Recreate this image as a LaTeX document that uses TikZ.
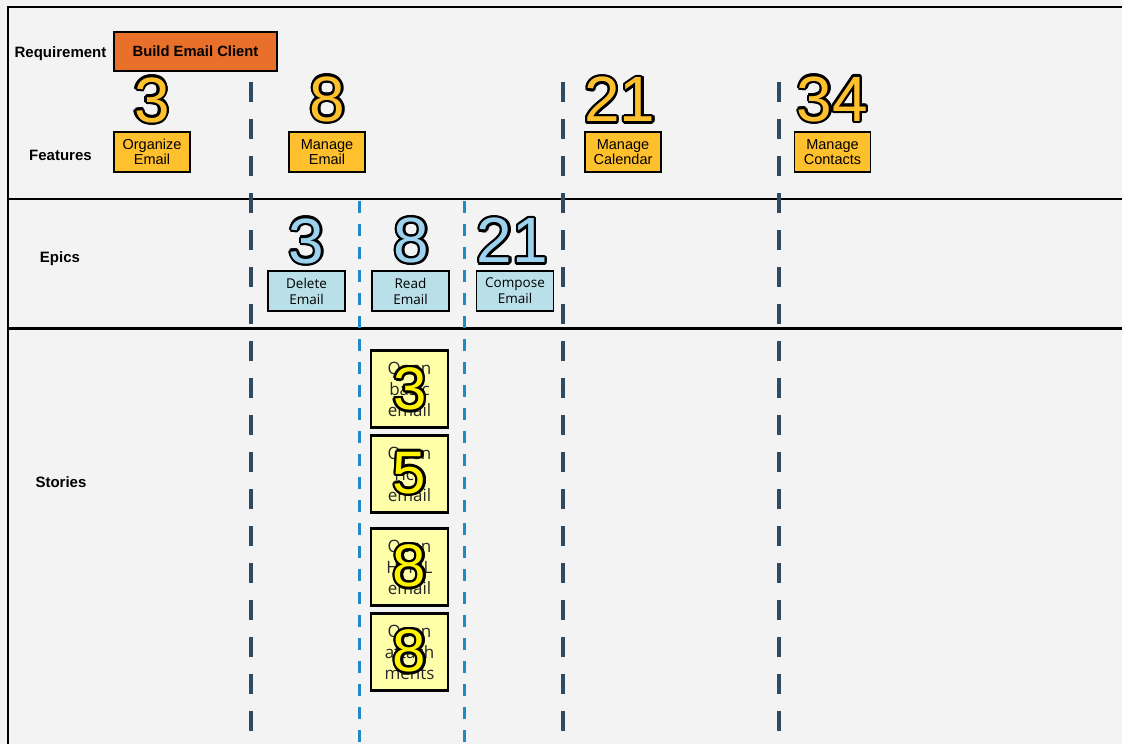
\documentclass[tikz,border=0pt]{standalone}
\usepackage{fontspec}
\setmainfont{Liberation Sans}
\newfontfamily\storyfont{Open Sans}
\definecolor{paper}{HTML}{F3F3F3}
\definecolor{reqorange}{HTML}{E8702A}
\definecolor{featgold}{HTML}{FFC02E}
\definecolor{epicblue}{HTML}{B9DFE9}
\definecolor{epicnum}{HTML}{9DD2EF}
\definecolor{storyyellow}{HTML}{FFFFAA}
\definecolor{storynum}{HTML}{FFF200}
\definecolor{slate}{HTML}{2E4B63}
\definecolor{dashblue}{HTML}{1F8AC6}

% big digits with a black rim
\newbox\olbox
\newcommand{\outlinenum}[2]{%
  \setbox\olbox=\hbox{#2}%
  \makebox[\wd\olbox][l]{%
    \color{black}%
    \foreach \ang in {0,22.5,...,337.5}{%
      \pgfmathsetlengthmacro\odx{2.4pt*cos(\ang)}%
      \pgfmathsetlengthmacro\ody{2.4pt*sin(\ang)}%
      \rlap{\kern\odx\raisebox{\ody}{\copy\olbox}}}%
    \color{#1}\copy\olbox}}

\tikzset{
  rowlabel/.style={font=\bfseries\fontsize{15}{17}\selectfont},
  reqbox/.style={draw, line width=1.8pt, fill=reqorange, minimum width=163pt,
    minimum height=39pt, inner sep=0pt, font=\bfseries\fontsize{14.8}{17}\selectfont},
  featbox/.style={draw, line width=1.8pt, fill=featgold, minimum width=76pt,
    minimum height=40pt, inner sep=0pt, align=center,
    font=\fontsize{14.5}{15.5}\selectfont},
  epicbox/.style={draw, line width=1.8pt, fill=epicblue, minimum width=77pt,
    minimum height=40pt, inner sep=0pt, align=center,
    font=\storyfont\fontsize{13.5}{16}\selectfont},
  storybox/.style={draw, line width=2.2pt, fill=storyyellow, minimum width=77pt,
    minimum height=77pt, inner sep=0pt, align=center, text=black!85,
    font=\storyfont\fontsize{17}{21}\selectfont},
  bignum/.style={inner sep=0pt, font=\fontsize{64}{64}\selectfont},
  smallnum/.style={inner sep=0pt, font=\fontsize{60}{60}\selectfont},
  featsplit/.style={slate, line width=4pt, dash pattern=on 20pt off 17pt},
  epicsplit/.style={dashblue, line width=3pt, dash pattern=on 12pt off 11pt}
}

\begin{document}
\begin{tikzpicture}[x=1pt, y=-1pt]
\fill[paper] (0,0) rectangle (1122,744);
\useasboundingbox (0,0) rectangle (1122,744);

% frame and rows
\draw[line width=2.5pt] (8,744) -- (8,7) -- (1122,7);
\draw[line width=2.5pt] (8,199) -- (1122,199);
\draw[line width=3pt] (8,328.5) -- (1122,328.5);

% column splits
\foreach \x in {251,562.5,778.5}
  \draw[featsplit] (\x,82) -- (\x,744);
\foreach \x in {359,464.5}
  \draw[epicsplit] (\x,201) -- (\x,744);

% row labels
\node[rowlabel] (l-req) at (60.5,54) {Requirement};
\node[rowlabel] (l-feat) at (60.5,155.5) {Features};
\node[rowlabel] (l-epic) at (60,259) {Epics};
\node[rowlabel] (l-story) at (61,482.5) {Stories};

\node[reqbox] (req) at (195.5,51.5) {Build Email Client};

% features
\node[featbox] (organize) at (152,152) {Organize\\Email};
\node[featbox] (manage) at (327,152) {Manage\\Email};
\node[featbox] (calendar) at (623,152) {Manage\\Calendar};
\node[featbox] (contacts) at (832.5,152) {Manage\\Contacts};

\node[bignum] (n-organize) at (152,100) {\outlinenum{featgold}{3}};
\node[bignum] (n-manage) at (327.5,99) {\outlinenum{featgold}{8}};
\node[bignum] (n-calendar) at (620,99.5) {\outlinenum{featgold}{21}};
\node[bignum] (n-contacts) at (832.5,99) {\outlinenum{featgold}{34}};

% epics
\node[epicbox] (delete) at (306.5,291) {Delete\\Email};
\node[epicbox] (read) at (410.5,291) {Read\\Email};
\node[epicbox] (compose) at (515,291) {Compose\\Email};

\node[bignum] (n-delete) at (306.5,241) {\outlinenum{epicnum}{3}};
\node[bignum] (n-read) at (411.5,240.5) {\outlinenum{epicnum}{8}};
\node[bignum] (n-compose) at (512.5,240.5) {\outlinenum{epicnum}{21}};

% stories
\node[storybox] (basic) at (409.5,389) {Open\\basic\\email};
\node[storybox] (rich) at (409.5,474) {Open\\rich\\email};
\node[storybox] (html) at (409.5,567) {Open\\HTML\\email};
\node[storybox] (attach) at (409.5,652) {Open\\attach\\ments};

\node[smallnum] (n-basic) at (410,389) {\outlinenum{storynum}{3}};
\node[smallnum] (n-rich) at (409.5,473) {\outlinenum{storynum}{5}};
\node[smallnum] (n-html) at (409.5,566) {\outlinenum{storynum}{8}};
\node[smallnum] (n-attach) at (409.5,651) {\outlinenum{storynum}{8}};
\end{tikzpicture}
\end{document}
